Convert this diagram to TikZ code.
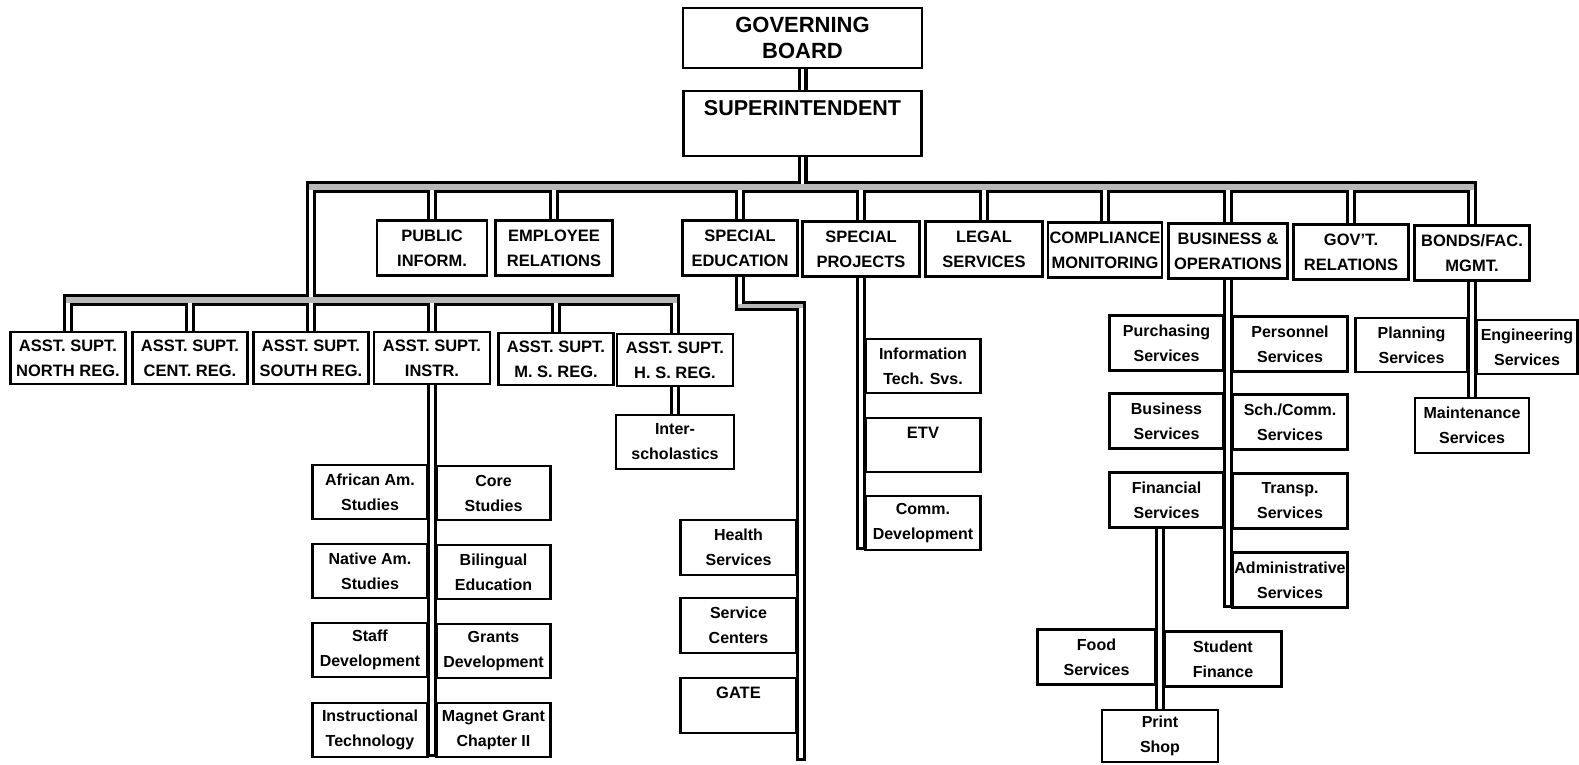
\documentclass[tikz,border=0pt]{standalone}
\usepackage{fontspec}
\setmainfont{Liberation Sans}
\usetikzlibrary{calc}
\pgfdeclarelayer{background}
\pgfsetlayers{background,main}

\tikzset{
  box/.style={draw, line width=2.8pt, fill=white, inner sep=0pt, outer sep=0pt,
    align=center, minimum width=115pt, minimum height=55pt},
  headtext/.style={font=\bfseries\fontsize{22}{26}\selectfont},
  capstext/.style={font=\bfseries\fontsize{16.5}{25}\selectfont},
  lowtext/.style={font=\bfseries\fontsize{16}{25}\selectfont},
  wireout/.style={line width=10pt, black},
  wirein/.style={line width=3.8pt, white},
  busout/.style={line width=12.5pt, black},
  busin/.style={line width=6pt, black!28},
  bendin/.style={line width=3.8pt, black!28},
}

\begin{document}
\begin{tikzpicture}[x=1pt, y=-1pt]
\useasboundingbox (0,0) rectangle (1579,764);

% ---- top of the hierarchy
\node[box, headtext, minimum width=239pt, minimum height=60pt] (gb) at (802.5,38) {GOVERNING\\BOARD};
\node[box, headtext, font=\bfseries\fontsize{21.5}{26}\selectfont, minimum width=238pt, minimum height=65pt] (sup) at (802.5,123.5) {SUPERINTENDENT\\[6pt]\mbox{}};

% ---- departments under the superintendent
\node[box, capstext, minimum width=110pt] (pub) at (432,248) {PUBLIC\\INFORM.};
\node[box, capstext, minimum width=117pt] (emp) at (554,248) {EMPLOYEE\\RELATIONS};
\node[box, capstext] (sed) at (740,248) {SPECIAL\\EDUCATION};
\node[box, capstext, minimum width=117pt] (spp) at (861,249) {SPECIAL\\PROJECTS};
\node[box, capstext, minimum width=117pt] (leg) at (984,249) {LEGAL\\SERVICES};
\node[box, capstext, minimum width=114pt] (cmp) at (1105,250) {COMPLIANCE\\MONITORING};
\node[box, capstext, minimum width=119pt] (bop) at (1228,251) {BUSINESS \&\\OPERATIONS};
\node[box, capstext] (gov) at (1351,252) {GOV'T.\\RELATIONS};
\node[box, capstext] (bnd) at (1472,253) {BONDS/FAC.\\MGMT.};

% ---- assistant superintendents
\node[box, capstext, minimum height=52pt] (nor) at (68,358) {ASST. SUPT.\\NORTH REG.};
\node[box, capstext, minimum height=52pt] (cen) at (190,358) {ASST. SUPT.\\CENT. REG.};
\node[box, capstext, minimum height=52pt] (sou) at (311,358) {ASST. SUPT.\\SOUTH REG.};
\node[box, capstext, minimum height=52pt, minimum width=116pt] (ins) at (432,358) {ASST. SUPT.\\INSTR.};
\node[box, capstext, minimum height=52pt] (msr) at (556,359) {ASST. SUPT.\\M. S. REG.};
\node[box, capstext, minimum height=52pt, minimum width=116pt] (hsr) at (675,360) {ASST. SUPT.\\H. S. REG.};
\node[box, lowtext, minimum width=118pt, minimum height=54pt] (isc) at (675,442) {Inter-\\scholastics};

% ---- instruction column
\coordinate (insend) at (432,757);
\node[box, lowtext, anchor=east, minimum height=54pt] (afr) at (427.5,492) {African Am.\\Studies};
\node[box, lowtext, anchor=east, minimum height=54pt] (nat) at (427.5,571) {Native Am.\\Studies};
\node[box, lowtext, anchor=east, minimum height=54pt] (stf) at (427.5,650) {Staff\\Development};
\node[box, lowtext, anchor=east, minimum height=54pt] (itc) at (427.5,730) {Instructional\\Technology};
\node[box, lowtext, anchor=west, minimum height=54pt, minimum width=114pt] (cor) at (436.5,493) {Core\\Studies};
\node[box, lowtext, anchor=west, minimum height=54pt, minimum width=114pt] (bil) at (436.5,572) {Bilingual\\Education};
\node[box, lowtext, anchor=west, minimum height=54pt, minimum width=114pt] (grn) at (436.5,651) {Grants\\Development};
\node[box, lowtext, anchor=west, minimum height=54pt, minimum width=114pt] (mag) at (436.5,730) {Magnet Grant\\Chapter II};

% ---- special education column
\coordinate (sebend) at (801,306);
\coordinate (seend) at (801,761);
\node[box, lowtext, anchor=east, minimum width=116pt] (hlt) at (796.5,547.5) {Health\\Services};
\node[box, lowtext, anchor=east, minimum width=116pt] (svc) at (796.5,625.5) {Service\\Centers};
\node[box, capstext, anchor=east, minimum width=116pt] (gat) at (796.5,705.5) {GATE\\\mbox{}};

% ---- special projects column
\coordinate (spend) at (861,550);
\node[box, lowtext, anchor=west, minimum height=54pt] (inf) at (865.5,366) {Information\\Tech. Svs.};
\node[box, capstext, anchor=west, minimum height=54pt] (etv) at (865.5,445) {ETV\\\mbox{}};
\node[box, lowtext, anchor=west, minimum height=54pt] (cdv) at (865.5,523) {Comm.\\Development};

% ---- business and operations column
\coordinate (boend) at (1228,607.5);
\node[box, lowtext, anchor=east, minimum width=114pt] (pur) at (1223.5,343) {Purchasing\\Services};
\node[box, lowtext, anchor=east, minimum width=114pt] (bus) at (1223.5,421) {Business\\Services};
\node[box, lowtext, anchor=east, minimum width=114pt] (fin) at (1223.5,500) {Financial\\Services};
\node[box, lowtext, anchor=west] (per) at (1232.5,344) {Personnel\\Services};
\node[box, lowtext, anchor=west] (sch) at (1232.5,422) {Sch./Comm.\\Services};
\node[box, lowtext, anchor=west] (trn) at (1232.5,501) {Transp.\\Services};
\node[box, lowtext, anchor=west] (adm) at (1232.5,580) {Administrative\\Services};

% ---- financial services branch
\node[box, lowtext, minimum width=116pt, minimum height=52pt] (prt) at (1160,736) {Print\\Shop};
\node[box, lowtext, anchor=east, minimum width=118pt] (fod) at (1155.5,657) {Food\\Services};
\node[box, lowtext, anchor=west, minimum width=117pt] (stu) at (1164.5,659) {Student\\Finance};

% ---- bonds / facilities column
\node[box, lowtext, minimum width=114pt] (mnt) at (1472,425.5) {Maintenance\\Services};
\node[box, lowtext, anchor=east, minimum width=112pt, minimum height=54pt] (pln) at (1467.5,345) {Planning\\Services};
\node[box, lowtext, anchor=west, minimum width=101pt, minimum height=54pt] (eng) at (1476.5,347) {Engineering\\Services};

% ---- bus levels
\coordinate (mbtop) at (0,180.75);
\coordinate (mb) at (0,187);
\coordinate (sbtop) at (0,293.75);
\coordinate (sb) at (0,300);

\begin{pgfonlayer}{background}
\fill[white] (0,0) rectangle (1579,764);

% outer black strokes of every double line
\draw[wireout] (gb.south) -- (sup.north);
\draw[wireout] (sup.south) -- (sup.south |- mbtop);
\draw[busout] ($(sou.north |- mb)+(-5,0)$) -- ($(bnd.north |- mb)+(5,0)$);
\foreach \n in {pub,emp,sed,spp,leg,cmp,bop,gov,bnd}
  \draw[wireout] (\n.north |- mbtop) -- (\n.north);
\draw[wireout] (sou.north |- mbtop) -- (sou.north |- sb);
\draw[busout] ($(nor.north |- sb)+(-5,0)$) -- ($(hsr.north |- sb)+(5,0)$);
\foreach \n in {nor,cen,sou,ins,msr,hsr}
  \draw[wireout] (\n.north |- sbtop) -- (\n.north);
\draw[wireout] (hsr.south) -- (isc.north);
\draw[wireout] (ins.south) -- (insend);
\draw[wireout] (sed.south) |- (sebend) -- (seend);
\draw[wireout] (spp.south) -- (spend);
\draw[wireout] (bop.south) -- (boend);
\draw[wireout] (fin.south -| prt.north) -- (prt.north);
\draw[wireout] (bnd.south) -- (mnt.north);

% white gaps of the connectors
\draw[wirein] (gb.south) -- (sup.north);
\draw[wirein] (sup.south) -- (sup.south |- mb);
\foreach \n in {pub,emp,sed,spp,leg,cmp,bop,gov,bnd}
  \draw[wirein] (\n.north |- mb) -- (\n.north);
\draw[wirein] (sou.north |- mb) -- (sou.north |- sb);
\foreach \n in {nor,cen,sou,ins,msr,hsr}
  \draw[wirein] (\n.north |- sb) -- (\n.north);
\draw[wirein] (hsr.south) -- (isc.north);
\draw[wirein] (ins.south) -- ($(insend)+(0,-3)$);
\draw[wirein] (sed.south) |- (sebend) -- ($(seend)+(0,-3)$);
\draw[wirein] (spp.south) -- ($(spend)+(0,-3)$);
\draw[wirein] (bop.south) -- ($(boend)+(0,-3)$);
\draw[wirein] (fin.south -| prt.north) -- (prt.north);
\draw[wirein] (bnd.south) -- (mnt.north);

% shaded bands of the horizontal buses
\draw[busin] ($(sou.north |- mb)+(-1.9,0)$) -- ($(bnd.north |- mb)+(1.9,0)$);
\draw[busin] ($(nor.north |- sb)+(-1.9,0)$) -- ($(hsr.north |- sb)+(1.9,0)$);
\draw[bendin] ($(sed.south |- sebend)+(-1.9,0)$) -- ($(sebend)+(1.9,0)$);
\end{pgfonlayer}
\end{tikzpicture}
\end{document}
